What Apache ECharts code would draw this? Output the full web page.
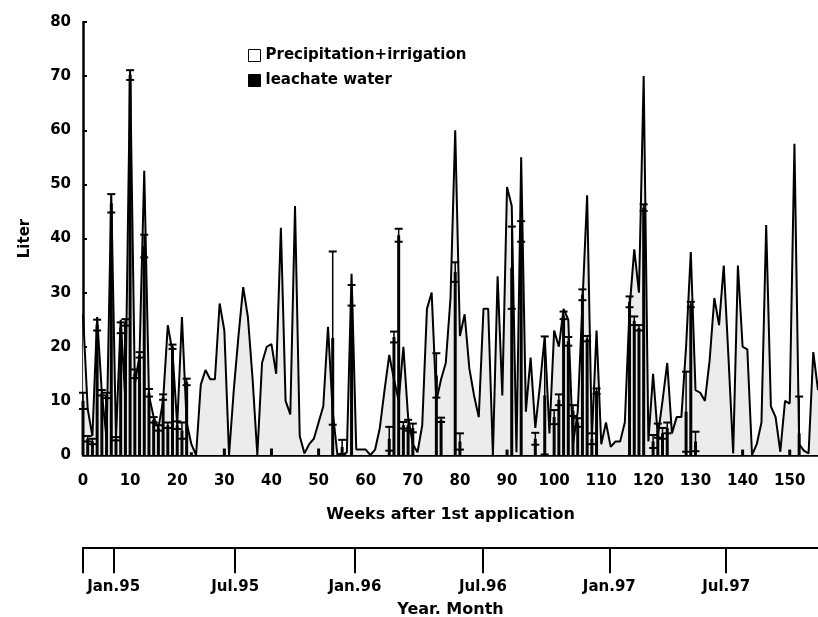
<!DOCTYPE html>
<html><head><meta charset="utf-8">
<script src="https://cdn.jsdelivr.net/npm/echarts@6/dist/echarts.min.js"></script>
<style>html,body{margin:0;padding:0;background:#fff}#c{width:818px;height:617px}</style>
</head><body><div id="c"></div>
<script>
// Precipitation + irrigation (Liter), one value per week, weeks 0..156
const precipitation = [
  26, 8.5, 3.5, 25.5, 11.5, 3, 48, 3, 25, 10,
  71, 13, 18.5, 52.5, 11, 7, 5, 10, 24, 19,
  5.5, 25.5, 6, 2, 0, 13, 15.7, 14, 14, 28,
  23, 0, 12, 22, 31, 25.5, 14, 0, 17, 20,
  20.5, 15, 42, 10, 7.5, 46, 3.5, 0.3, 2, 3,
  6, 9, 23.7, 8, 0, 0, 0.5, 33.5, 1, 1,
  1, 0, 1, 5, 12, 18.5, 14, 10, 20, 7,
  2, 0.5, 5.5, 27, 30, 10, 14, 17, 29, 60,
  22, 26, 16, 11, 7, 27, 27, 0, 33, 11,
  49.5, 46, 0.5, 55, 8, 18, 5, 13, 22, 4,
  23, 20, 27, 25, 2, 8, 28, 48, 3, 23,
  2, 6, 1.5, 2.5, 2.5, 6, 27, 38, 30, 70,
  2.5, 15, 3.5, 10, 17, 4, 7, 7, 20, 37.5,
  12, 11.5, 10, 17.5, 29, 24, 35, 18, 0.3, 35,
  20, 19.5, 0, 2, 6, 42.5, 9, 7, 0.6, 10,
  9.5, 57.5, 2, 0.8, 0.3, 19, 12
];
// Leachate water: week, mean, error (half-range)
const leachWeeks = [0,1,2,3,4,5,6,7,8,9,10,11,12,13,14,15,16,17,18,19,20,21,22,23,
  30,40,50,53,55,57,65,66,67,68,69,70,75,76,79,80,90,91,93,96,98,100,101,102,103,104,105,
  106,107,108,109,116,117,118,119,121,122,123,124,128,129,130,140,150,152];
const leachValues = [10,3,2.5,24,11.5,11,46.5,3,23.5,24.5,70.2,15,18.5,38.6,11.5,6.5,5,10.7,5.5,20,5.5,4.5,13.5,0.5,
  1.2,1.2,1.2,21.6,1.5,29.5,3,21.8,40.6,5.5,5.5,5,14.7,6.5,33.8,2.5,1,34.6,41.3,3,11,7,10.2,25.8,21,8.2,6,
  29.6,21.5,3,11.8,28.3,24.8,23.5,45.7,2.5,4.5,4,5,8,27.8,2.5,1,1,4];
const leachErrors = [1.5,0.5,0.5,1,0.5,0.5,1.7,0.3,1,0.6,0.9,0.8,0.5,2.1,0.7,0.5,0.5,0.5,0.5,0.4,0.7,1.5,0.6,0,
  0,0,0,16,1.3,1.9,2.2,1,1.2,0.6,1,0.8,4.1,0.4,1.8,1.5,0,7.6,1.9,1.1,10.9,1.3,1,0.7,0.8,1,0.8,
  1,0.5,1,0.5,1,0.8,0.5,0.6,1.2,1.3,1,1,7.4,0.5,1.8,0,0,6.8];
// Calendar axis (position in weeks, label)
const monthTickWeeks = [0, 6.5, 32.3, 57.7, 84.9, 111.7, 136.5];
const monthTickLabels = ['', 'Jan.95', 'Jul.95', 'Jan.96', 'Jul.96', 'Jan.97', 'Jul.97'];
const weekTicks = { min: 0, max: 156, interval: 10 };
const literTicks = { min: 0, max: 80, interval: 10 };

const FONT = 'DejaVu Sans';
const precipData = precipitation.map((v, i) => [i, v]);
const barData = leachWeeks.map((w, i) => [w, leachValues[i]]);
const errData = [];
leachWeeks.forEach((w, i) => {
  if (leachErrors[i] > 0) errData.push([w, leachValues[i] - leachErrors[i], leachValues[i] + leachErrors[i]]);
});

const chart = echarts.init(document.getElementById('c'), null, { renderer: 'canvas' });
chart.setOption({
  animation: false,
  backgroundColor: '#fff',
  textStyle: { fontFamily: FONT, fontWeight: 'bold', color: '#000' },
  grid: [
    { left: 83, right: 0, top: 22, bottom: 162 },
    { left: 83, right: 0, top: 547, height: 1 }
  ],
  legend: {
    orient: 'vertical', left: 248, top: 48, padding: 0, itemGap: 10,
    itemWidth: 12, itemHeight: 12, itemStyle: { borderWidth: 1, borderColor: '#000' },
    textStyle: { fontFamily: FONT, fontWeight: 'bold', fontSize: 15, color: '#000' },
    data: [
      { name: 'Precipitation+irrigation', icon: 'rect', itemStyle: { color: '#fff', borderColor: '#000', borderWidth: 1 } },
      { name: 'leachate water', icon: 'rect', itemStyle: { color: '#000', borderColor: '#000', borderWidth: 1 } }
    ]
  },
  xAxis: [
    {
      gridIndex: 0, type: 'value', min: weekTicks.min, max: weekTicks.max, interval: weekTicks.interval,
      name: 'Weeks after 1st application', nameLocation: 'middle', nameGap: 52,
      nameTextStyle: { fontFamily: FONT, fontWeight: 'bold', fontSize: 16, color: '#000' },
      axisLine: { show: true, onZero: false, lineStyle: { color: '#000', width: 2.5 } },
      axisTick: { show: false },
      splitLine: { show: false },
      axisLabel: { margin: 19, fontFamily: FONT, fontWeight: 'bold', fontSize: 15, color: '#000' }
    },
    {
      gridIndex: 1, type: 'value', min: weekTicks.min, max: weekTicks.max, position: 'bottom',
      name: 'Year. Month', nameLocation: 'middle', nameGap: 55,
      nameTextStyle: { fontFamily: FONT, fontWeight: 'bold', fontSize: 16, color: '#000' },
      axisLine: { show: true, onZero: false, lineStyle: { color: '#000', width: 2 } },
      axisTick: { show: true, inside: false, length: 26, customValues: monthTickWeeks, lineStyle: { color: '#000', width: 2 } },
      splitLine: { show: false },
      axisLabel: {
        show: true, margin: 32, customValues: monthTickWeeks.slice(1),
        fontFamily: FONT, fontWeight: 'bold', fontSize: 15, color: '#000',
        formatter: v => { const k = monthTickWeeks.indexOf(v); return k >= 0 ? monthTickLabels[k] : ''; }
      }
    }
  ],
  yAxis: [
    {
      gridIndex: 0, type: 'value', min: literTicks.min, max: literTicks.max, interval: literTicks.interval,
      name: 'Liter', nameLocation: 'middle', nameGap: 50, nameRotate: 90,
      nameTextStyle: { fontFamily: FONT, fontWeight: 'bold', fontSize: 15, color: '#000' },
      axisLine: { show: true, lineStyle: { color: '#000', width: 2.5 } },
      axisTick: { show: true, inside: true, length: 4, lineStyle: { color: '#000', width: 2 } },
      splitLine: { show: false },
      axisLabel: { margin: 12, fontFamily: FONT, fontWeight: 'bold', fontSize: 15, color: '#000' }
    },
    { gridIndex: 1, type: 'value', show: false, min: 0, max: 1 }
  ],
  series: [
    {
      name: 'Precipitation+irrigation', type: 'line', xAxisIndex: 0, yAxisIndex: 0,
      data: precipData, symbol: 'none', z: 2,
      itemStyle: { color: '#fff', borderColor: '#000' },
      lineStyle: { color: '#000', width: 2 },
      areaStyle: { color: '#ececec', opacity: 1 }
    },
    {
      name: 'leachate water', type: 'bar', xAxisIndex: 0, yAxisIndex: 0,
      data: barData, barWidth: 3, z: 3,
      itemStyle: { color: '#000' }
    },
    {
      name: 'errors', type: 'custom', xAxisIndex: 0, yAxisIndex: 0, z: 4,
      data: errData,
      renderItem: function (params, api) {
        const x = api.value(0), lo = api.value(1), hi = api.value(2);
        const top = api.coord([x, hi]);
        const bot = api.coord([x, Math.max(lo, 0)]);
        const cw = 4;
        const ch = [
          { type: 'line', shape: { x1: top[0], y1: top[1], x2: bot[0], y2: bot[1] }, style: { stroke: '#000', lineWidth: 1.5 } },
          { type: 'line', shape: { x1: top[0] - cw, y1: top[1], x2: top[0] + cw, y2: top[1] }, style: { stroke: '#000', lineWidth: 2 } }
        ];
        if (lo > 0) ch.push({ type: 'line', shape: { x1: bot[0] - cw, y1: bot[1], x2: bot[0] + cw, y2: bot[1] }, style: { stroke: '#000', lineWidth: 2 } });
        return { type: 'group', children: ch };
      }
    }
  ]
});
</script>
</body></html>
